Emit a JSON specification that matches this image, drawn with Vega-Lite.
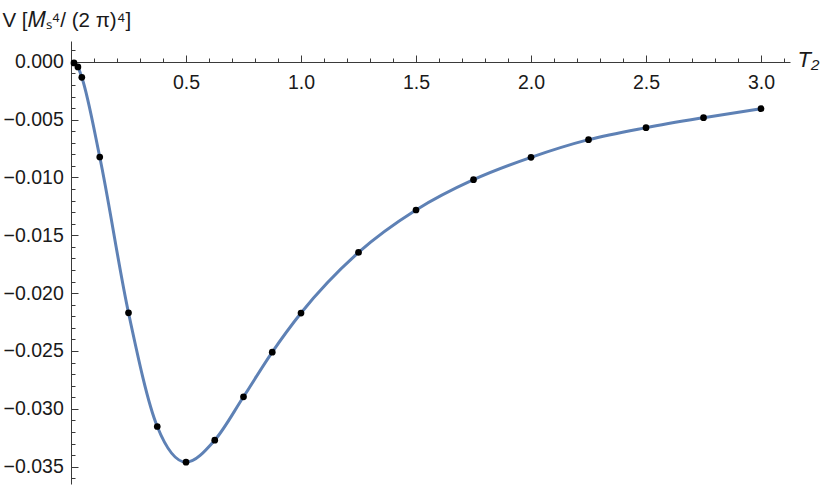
{
  "$schema": "https://vega.github.io/schema/vega-lite/v6.json",
  "width": 719,
  "height": 443,
  "autosize": {"type": "none"},
  "padding": {"left": 71, "top": 41, "right": 40, "bottom": 3},
  "background": "white",
  "config": {
    "view": {"stroke": null},
    "axis": {"grid": false, "labelFont": "Liberation Sans", "titleFont": "Liberation Sans", "labelFontSize": 19.5, "titleFontSize": 19.5, "labelColor": "#1a1a1a", "titleColor": "#1a1a1a", "domainColor": "#3a3a3a", "tickColor": "#3a3a3a", "labelFontWeight": "normal", "titleFontWeight": "normal"}
  },
  "data": {
    "values": [
      {"T2": 0.013, "V": -0.0001},
      {"T2": 0.030, "V": -0.00044},
      {"T2": 0.047, "V": -0.00134},
      {"T2": 0.125, "V": -0.00823},
      {"T2": 0.25, "V": -0.0217},
      {"T2": 0.375, "V": -0.03153},
      {"T2": 0.5, "V": -0.03461},
      {"T2": 0.625, "V": -0.03271},
      {"T2": 0.75, "V": -0.02896},
      {"T2": 0.875, "V": -0.0251},
      {"T2": 1.0, "V": -0.02172},
      {"T2": 1.25, "V": -0.01648},
      {"T2": 1.5, "V": -0.01281},
      {"T2": 1.75, "V": -0.01019},
      {"T2": 2.0, "V": -0.00826},
      {"T2": 2.25, "V": -0.00673},
      {"T2": 2.5, "V": -0.00569},
      {"T2": 2.75, "V": -0.00483},
      {"T2": 3.0, "V": -0.00405}
    ]
  },
  "layer": [
    {
      "mark": {"type": "line", "interpolate": "monotone", "stroke": "#5E81B5", "strokeWidth": 3},
      "encoding": {
        "x": {
          "field": "T2", "type": "quantitative",
          "scale": {"domain": [0, 3.126], "nice": false, "zero": false},
          "axis": {
            "orient": "top", "offset": -21, "values": [0.5, 1.0, 1.5, 2.0, 2.5, 3.0], "format": ".1f",
            "tickSize": 7, "labelPadding": -18.5, "labelBaseline": "top", "labelFlush": false,
            "title": "T₂", "titleFontStyle": "italic", "titleFontSize": 22, "titleX": 726, "titleY": 4, "titleAlign": "left", "titleBaseline": "alphabetic", "titleAngle": 0
          }
        },
        "y": {
          "field": "V", "type": "quantitative",
          "scale": {"domain": [-0.0365, 0.0018], "nice": false, "zero": false},
          "axis": {
            "orient": "left", "values": [0, -0.005, -0.01, -0.015, -0.02, -0.025, -0.03, -0.035], "format": ".3f",
            "tickSize": -7, "labelPadding": 14.7, "labelFlush": false,
            "title": "V [𝑀ₛ⁴/ (2 π)⁴]", "titleFontSize": 20.5, "titleAngle": 0, "titleX": -69, "titleY": -15, "titleAlign": "left", "titleBaseline": "alphabetic"
          }
        }
      }
    },
    {
      "mark": {"type": "point", "filled": true, "color": "black", "size": 45, "opacity": 1},
      "encoding": {
        "x": {
          "field": "T2", "type": "quantitative",
          "axis": {
            "orient": "top", "offset": -21, "values": [0.1, 0.2, 0.3, 0.4, 0.6, 0.7, 0.8, 0.9, 1.1, 1.2, 1.3, 1.4, 1.6, 1.7, 1.8, 1.9, 2.1, 2.2, 2.3, 2.4, 2.6, 2.7, 2.8, 2.9, 3.1],
            "tickSize": 4, "labels": false, "domain": false, "title": null
          }
        },
        "y": {
          "field": "V", "type": "quantitative",
          "axis": {
            "orient": "left", "values": [0.001, -0.001, -0.002, -0.003, -0.004, -0.006, -0.007, -0.008, -0.009, -0.011, -0.012, -0.013, -0.014, -0.016, -0.017, -0.018, -0.019, -0.021, -0.022, -0.023, -0.024, -0.026, -0.027, -0.028, -0.029, -0.031, -0.032, -0.033, -0.034, -0.036],
            "tickSize": -4, "labels": false, "domain": false, "title": null
          }
        }
      }
    }
  ],
  "resolve": {"axis": {"x": "independent", "y": "independent"}}
}
